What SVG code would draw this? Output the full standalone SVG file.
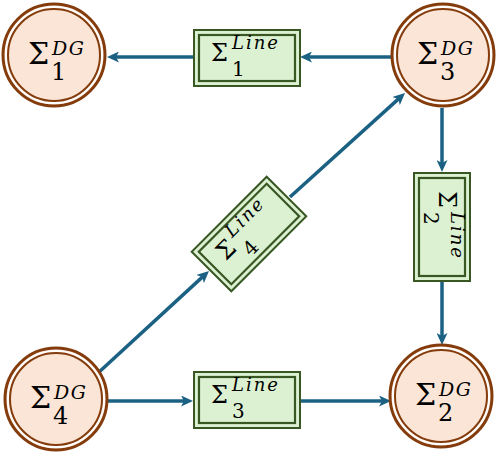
<svg xmlns="http://www.w3.org/2000/svg" width="498" height="458" viewBox="0 0 498 458">
<style>
.oc{fill:#fbe5d6;stroke:#843c0c;stroke-width:3}
.ic{fill:#fbe5d6;stroke:#843c0c;stroke-width:2}
.gap{fill:none;stroke:#ffffff;stroke-width:2}
.ob{fill:#dcf1d2;stroke:#385723;stroke-width:2}
.ib{fill:#dcf1d2;stroke:#385723;stroke-width:2.2}
.s{font-family:"DejaVu Serif","Liberation Serif",serif;fill:#000}
.i{font-family:"DejaVu Serif","Liberation Serif",serif;font-style:italic;fill:#000}
.e{fill:none;stroke:#1b6184;stroke-width:3.5;marker-end:url(#ah)}
</style>
<defs>
<marker id="ah" markerUnits="userSpaceOnUse" markerWidth="12" markerHeight="11" viewBox="0 0 12 11" refX="4" refY="5.5" orient="auto">
<path d="M0,0 L12,5.5 L0,11 L3,5.5 z" fill="#1b6184"/>
</marker>
</defs>
<g id="connectors">
<line class="e" x1="193" y1="57" x2="115" y2="57"/>
<line class="e" x1="391" y1="57" x2="308" y2="57"/>
<line class="e" x1="442" y1="108" x2="442" y2="164"/>
<line class="e" x1="442" y1="281" x2="442" y2="337"/>
<line class="e" x1="108" y1="401" x2="185" y2="401"/>
<line class="e" x1="300" y1="401" x2="383" y2="401"/>
<line class="e" x1="98" y1="373" x2="203.1" y2="276.4"/>
<line class="e" x1="290" y1="197" x2="399.1" y2="98.4"/>
</g>
<g id="dg1" transform="translate(54,55)">
<circle class="oc" r="51"/>
<circle class="gap" r="48"/>
<circle class="ic" r="46"/>
<text class="s" x="-26" y="9" font-size="30">Σ</text>
<text class="i" x="-2" y="0" font-size="19" letter-spacing="1.5">DG</text>
<text class="s" x="-3" y="25" font-size="24">1</text>
</g>
<g id="dg3" transform="translate(443,55)">
<circle class="oc" r="51"/>
<circle class="gap" r="48"/>
<circle class="ic" r="46"/>
<text class="s" x="-26" y="9" font-size="30">Σ</text>
<text class="i" x="-2" y="0" font-size="19" letter-spacing="1.5">DG</text>
<text class="s" x="-3" y="25" font-size="24">3</text>
</g>
<g id="dg4" transform="translate(56,399)">
<circle class="oc" r="51"/>
<circle class="gap" r="48"/>
<circle class="ic" r="46"/>
<text class="s" x="-26" y="9" font-size="30">Σ</text>
<text class="i" x="-2" y="0" font-size="19" letter-spacing="1.5">DG</text>
<text class="s" x="-3" y="25" font-size="24">4</text>
</g>
<g id="dg2" transform="translate(441,396)">
<circle class="oc" r="51"/>
<circle class="gap" r="48"/>
<circle class="ic" r="46"/>
<text class="s" x="-26" y="9" font-size="30">Σ</text>
<text class="i" x="-2" y="0" font-size="19" letter-spacing="1.5">DG</text>
<text class="s" x="-3" y="25" font-size="24">2</text>
</g>
<g id="line1" transform="translate(247,58)">
<rect class="ob" x="-53" y="-28" width="106" height="56"/>
<rect class="ib" x="-48" y="-23" width="96" height="46"/>
<text class="s" x="-36" y="3" font-size="24">Σ</text>
<text class="i" x="-15" y="-9" font-size="18" textLength="46" lengthAdjust="spacing">Line</text>
<text class="s" x="-15" y="18" font-size="20">1</text>
</g>
<g id="line3" transform="translate(247,400)">
<rect class="ob" x="-53" y="-28" width="106" height="56"/>
<rect class="ib" x="-48" y="-23" width="96" height="46"/>
<text class="s" x="-36" y="3" font-size="24">Σ</text>
<text class="i" x="-15" y="-9" font-size="18" textLength="46" lengthAdjust="spacing">Line</text>
<text class="s" x="-15" y="18" font-size="20">3</text>
</g>
<g id="line2" transform="translate(442,227) rotate(90)">
<rect class="ob" x="-54" y="-28" width="108" height="56"/>
<rect class="ib" x="-49" y="-23" width="98" height="46"/>
<text class="s" x="-36" y="3" font-size="24">Σ</text>
<text class="i" x="-15" y="-9" font-size="18" textLength="46" lengthAdjust="spacing">Line</text>
<text class="s" x="-15" y="18" font-size="20">2</text>
</g>
<g id="line4" transform="translate(249,234) rotate(-45)">
<rect class="ob" x="-53" y="-28" width="106" height="56"/>
<rect class="ib" x="-48" y="-23" width="96" height="46"/>
<text class="s" x="-36" y="3" font-size="24">Σ</text>
<text class="i" x="-15" y="-9" font-size="18" textLength="46" lengthAdjust="spacing">Line</text>
<text class="s" x="-15" y="18" font-size="20">4</text>
</g>
</svg>
